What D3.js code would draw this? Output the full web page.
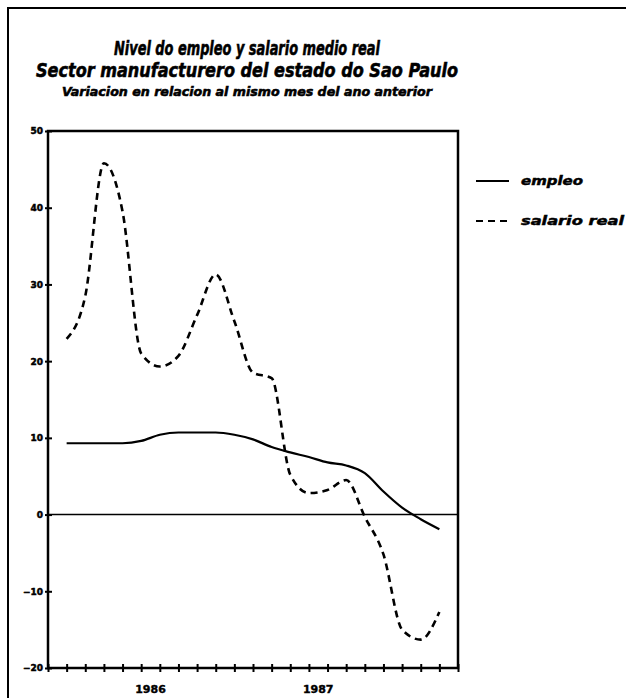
<!DOCTYPE html>
<html><head><meta charset="utf-8">
<script src="https://cdn.jsdelivr.net/npm/d3@7"></script>
<style>body{margin:0;background:#fff}svg{display:block}</style>
</head><body>
<script>
// ---- data ----
const months = d3.range(1, 22); // month index on the axis (0..22 grid)
const empleo = [9.3, 9.3, 9.3, 9.3, 9.6, 10.4, 10.7, 10.7, 10.7, 10.4, 9.8, 8.8, 8.1, 7.5, 6.8, 6.4, 5.4, 3.0, 0.9, -0.6, -1.9];
const salario = [22.9, 28.5, 45.8, 39.5, 21.0, 19.3, 20.7, 26.0, 31.3, 25.2, 18.5, 17.8, 5.2, 2.8, 3.2, 4.5, -0.3, -5.2, -15.0, -16.3, -12.7];
const yTicks = [50, 40, 30, 20, 10, 0, -10, -20];
const xTicks = d3.range(0, 23);
const yearLabels = ["1986", "1987"];
const yearPos = [5.5, 14.5];
const seriesNames = ["empleo", "salario real"];
const titles = ["Nivel do empleo y salario medio real", "Sector manufacturero del estado do Sao Paulo", "Variacion en relacion al mismo mes del ano anterior"];

const W = 626, H = 698;
const svg = d3.select("body").append("svg").attr("width", W).attr("height", H);
const font = "'DejaVu Sans', 'Liberation Sans', sans-serif";

// outer frame
svg.append("path").attr("d", `M8,${H} L8,8 L${W},8`).attr("fill", "none").attr("stroke", "#000").attr("stroke-width", 2);

// titles
const tSpec = [{y: 55, size: 19, len: 266}, {y: 77, size: 19, len: 422}, {y: 96, size: 13, len: 370}];
titles.forEach((t, i) => {
  svg.append("text").attr("x", 247).attr("y", tSpec[i].y)
    .attr("text-anchor", "middle").attr("font-family", font)
    .attr("font-weight", "bold").attr("font-style", "italic")
    .attr("font-size", tSpec[i].size)
    .attr("stroke", "#000").attr("stroke-width", 0.6)
    .attr("textLength", tSpec[i].len).attr("lengthAdjust", "spacingAndGlyphs")
    .text(t);
});

const x = d3.scaleLinear().domain([0, 22]).range([48, 458]);
const y = d3.scaleLinear().domain([-20, 50]).range([668, 131]);

// x ticks
const gx = svg.append("g").attr("transform", `translate(0,${y(-20)})`)
  .call(d3.axisBottom(x).tickValues(xTicks).tickSize(0).tickFormat(""));
gx.select(".domain").remove();
gx.selectAll(".tick").append("line").attr("y1", -4).attr("y2", 4).attr("stroke", "#000").attr("stroke-width", 2);

// y ticks
const gy = svg.append("g").attr("transform", `translate(${x(0)},0)`)
  .call(d3.axisLeft(y).tickValues(yTicks).tickSize(0).tickPadding(5));
gy.select(".domain").remove();
gy.selectAll(".tick line").remove();
gy.selectAll(".tick").append("line").attr("x1", -3).attr("x2", 4).attr("stroke", "#000").attr("stroke-width", 2);
gy.selectAll(".tick text").attr("font-family", font).attr("font-weight", "bold").attr("font-size", 9)
  .attr("fill", "#000").attr("stroke", "#000").attr("stroke-width", 0.5);

// frame
svg.append("rect").attr("x", x(0)).attr("y", y(50)).attr("width", x(22) - x(0)).attr("height", y(-20) - y(50))
  .attr("fill", "none").attr("stroke", "#000").attr("stroke-width", 2.5);

// zero line
svg.append("line").attr("x1", x(0)).attr("x2", x(22)).attr("y1", y(0)).attr("y2", y(0))
  .attr("stroke", "#000").attr("stroke-width", 1.6);

// year labels
yearLabels.forEach((l, i) => {
  svg.append("text").attr("x", x(yearPos[i])).attr("y", 693).attr("text-anchor", "middle")
    .attr("font-family", font).attr("font-weight", "bold").attr("font-size", 11)
    .attr("stroke", "#000").attr("stroke-width", 0.4).text(l);
});

const line = d3.line().x((d, i) => x(months[i])).y(d => y(d)).curve(d3.curveMonotoneX);
svg.append("path").datum(empleo).attr("d", line).attr("fill", "none").attr("stroke", "#000").attr("stroke-width", 2.2);
svg.append("path").datum(salario).attr("d", line).attr("fill", "none").attr("stroke", "#000").attr("stroke-width", 2.6).attr("stroke-dasharray", "7,5");

// legend
const lg = [{y: 181, dash: null}, {y: 221, dash: "7,5"}];
seriesNames.forEach((n, i) => {
  svg.append("line").attr("x1", 476).attr("x2", 509).attr("y1", lg[i].y).attr("y2", lg[i].y)
    .attr("stroke", "#000").attr("stroke-width", 2.2).attr("stroke-dasharray", lg[i].dash);
  svg.append("text").attr("x", 521).attr("y", lg[i].y + 4).attr("font-family", font)
    .attr("font-weight", "bold").attr("font-style", "italic").attr("font-size", 13)
    .attr("stroke", "#000").attr("stroke-width", 0.5)
    .attr("textLength", i === 0 ? 62 : 103).attr("lengthAdjust", "spacingAndGlyphs").text(n);
});
</script>
</body></html>
